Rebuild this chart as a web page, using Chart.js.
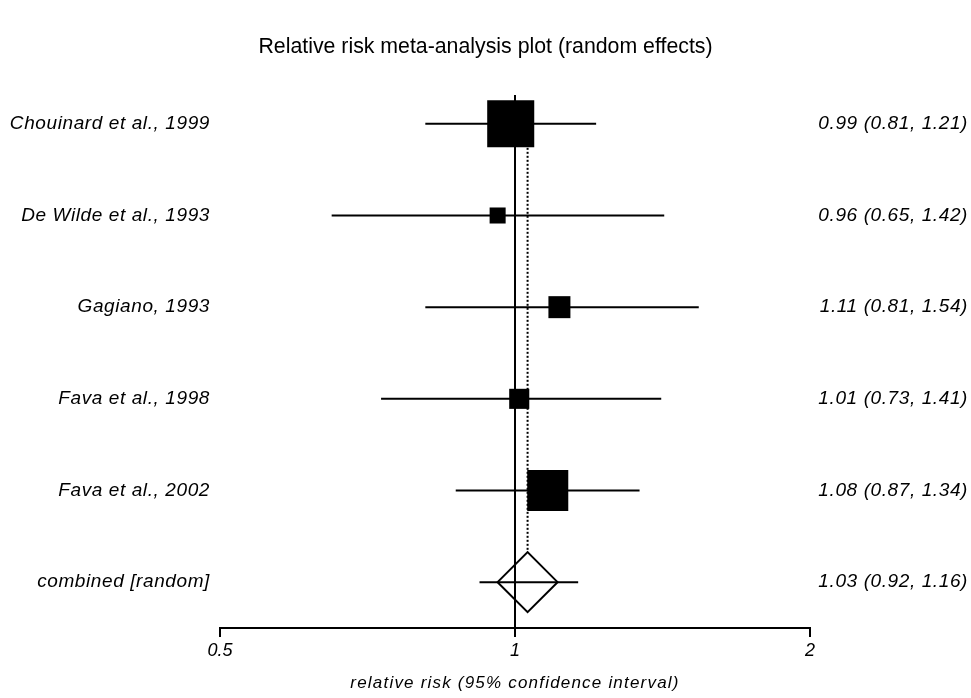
<!DOCTYPE html>
<html>
<head>
<meta charset="utf-8">
<script src="https://cdn.jsdelivr.net/npm/chart.js@4/dist/chart.umd.min.js"></script>
<style>
  body { margin: 0; background: #fff; }
  #wrap { width: 971px; height: 698px; }
</style>
</head>
<body>
<div id="wrap"><canvas id="forest"></canvas></div>
<script>
// study rows
const studies = ['Chouinard et al., 1999', 'De Wilde et al., 1993', 'Gagiano, 1993', 'Fava et al., 1998', 'Fava et al., 2002'];
const rr = [0.99, 0.96, 1.11, 1.01, 1.08];
const lower = [0.81, 0.65, 0.81, 0.73, 0.87];
const upper = [1.21, 1.42, 1.54, 1.41, 1.34];
const weights = [43.9, 5.1, 9.6, 8.0, 33.4];

// pooled estimate
const pooledLabel = 'combined [random]';
const pooledRR = 1.03;
const pooledLower = 0.92;
const pooledUpper = 1.16;

const xTicks = [0.5, 1, 2];

const titleText = 'Relative risk meta-analysis plot (random effects)';
const xTitleText = 'relative risk (95% confidence interval)';

const FONT = '"Liberation Sans", Arial, sans-serif';
const nRows = studies.length + 1;
const pooledRow = studies.length;

function fmt(v) {
    return v.toFixed(2);
}

const ciSets = [];
for (let i = 0; i < studies.length; i++) {
    ciSets.push({
        type: 'line',
        data: [{x: lower[i], y: i}, {x: upper[i], y: i}],
        borderColor: '#000',
        borderWidth: 2,
        pointRadius: 0,
        order: 3
    });
}
ciSets.push({
    type: 'line',
    data: [{x: pooledLower, y: pooledRow}, {x: pooledUpper, y: pooledRow}],
    borderColor: '#000',
    borderWidth: 2,
    pointRadius: 0,
    order: 3
});

// box side grows with sqrt of weight, rect radius -> side / sqrt(2)
const boxRadius = weights.map(w => 7.1 * Math.sqrt(w) / (2 * Math.SQRT1_2));

const textLayer = {
    id: 'textLayer',
    afterDraw(chart) {
        const ctx = chart.ctx;
        const y = chart.scales.y;
        const area = chart.chartArea;
        const left = area.left - 10;
        const right = chart.width - 3;
        ctx.save();
        ctx.fillStyle = '#000';

        // title
        ctx.textAlign = 'center';
        ctx.textBaseline = 'middle';
        ctx.font = '21.3px ' + FONT;
        ctx.fillText(titleText, chart.width / 2, 47);

        // axis title
        ctx.font = 'italic 17px ' + FONT;
        ctx.letterSpacing = '1.2px';
        ctx.fillText(xTitleText, (area.left + area.right) / 2, 683);

        // row labels and values
        ctx.textAlign = 'right';
        ctx.letterSpacing = '0.6px';
        ctx.font = 'italic 19px ' + FONT;
        for (let i = 0; i < nRows; i++) {
            const py = y.getPixelForValue(i);
            const name = i < studies.length ? studies[i] : pooledLabel;
            const txt = i < studies.length
                ? fmt(rr[i]) + ' (' + fmt(lower[i]) + ', ' + fmt(upper[i]) + ')'
                : fmt(pooledRR) + ' (' + fmt(pooledLower) + ', ' + fmt(pooledUpper) + ')';
            ctx.fillText(name, left, py);
            ctx.fillText(txt, right, py);
        }
        ctx.restore();
    }
};

new Chart(document.getElementById('forest'), {
    type: 'scatter',
    data: {
        datasets: [
            {
                // boxes
                data: rr.map((v, i) => ({x: v, y: i})),
                pointStyle: 'rect',
                pointRadius: boxRadius,
                pointBackgroundColor: '#000',
                pointBorderWidth: 0,
                order: 0
            },
            {
                // pooled diamond
                data: [{x: pooledRR, y: pooledRow}],
                pointStyle: 'rectRot',
                pointRadius: 30,
                pointBackgroundColor: 'rgba(0,0,0,0)',
                pointBorderColor: '#000',
                pointBorderWidth: 2,
                order: 1
            },
            {
                // line of no effect
                type: 'line',
                data: [{x: 1, y: -0.315}, {x: 1, y: 5.5}],
                borderColor: '#000',
                borderWidth: 2,
                pointRadius: 0,
                order: 4
            },
            {
                // pooled estimate dotted line
                type: 'line',
                data: [{x: pooledRR, y: 0}, {x: pooledRR, y: pooledRow - 0.33}],
                borderColor: '#000',
                borderWidth: 2,
                borderDash: [2, 2],
                pointRadius: 0,
                order: 4
            },
            ...ciSets
        ]
    },
    options: {
        responsive: true,
        maintainAspectRatio: false,
        animation: false,
        layout: { padding: { left: 220, right: 161, top: 78, bottom: 0 } },
        plugins: {
            legend: { display: false },
            tooltip: { enabled: false },
            title: { display: false }
        },
        scales: {
            x: {
                type: 'logarithmic',
                min: 0.5,
                max: 2,
                afterBuildTicks(scale) {
                    scale.ticks = xTicks.map(v => ({value: v}));
                },
                afterFit(scale) {
                    scale.height = 70;
                },
                ticks: {
                    autoSkip: false,
                    maxRotation: 0,
                    color: '#000',
                    padding: 3,
                    font: { family: FONT, size: 18, style: 'italic' },
                    callback: v => String(v)
                },
                grid: {
                    drawOnChartArea: false,
                    drawTicks: true,
                    tickLength: 9,
                    color: '#000',
                    lineWidth: 2
                },
                border: { display: true, color: '#000', width: 2 }
            },
            y: {
                type: 'linear',
                display: false,
                reverse: true,
                min: -0.5,
                max: 5.5
            }
        }
    },
    plugins: [textLayer]
});
</script>
</body>
</html>
